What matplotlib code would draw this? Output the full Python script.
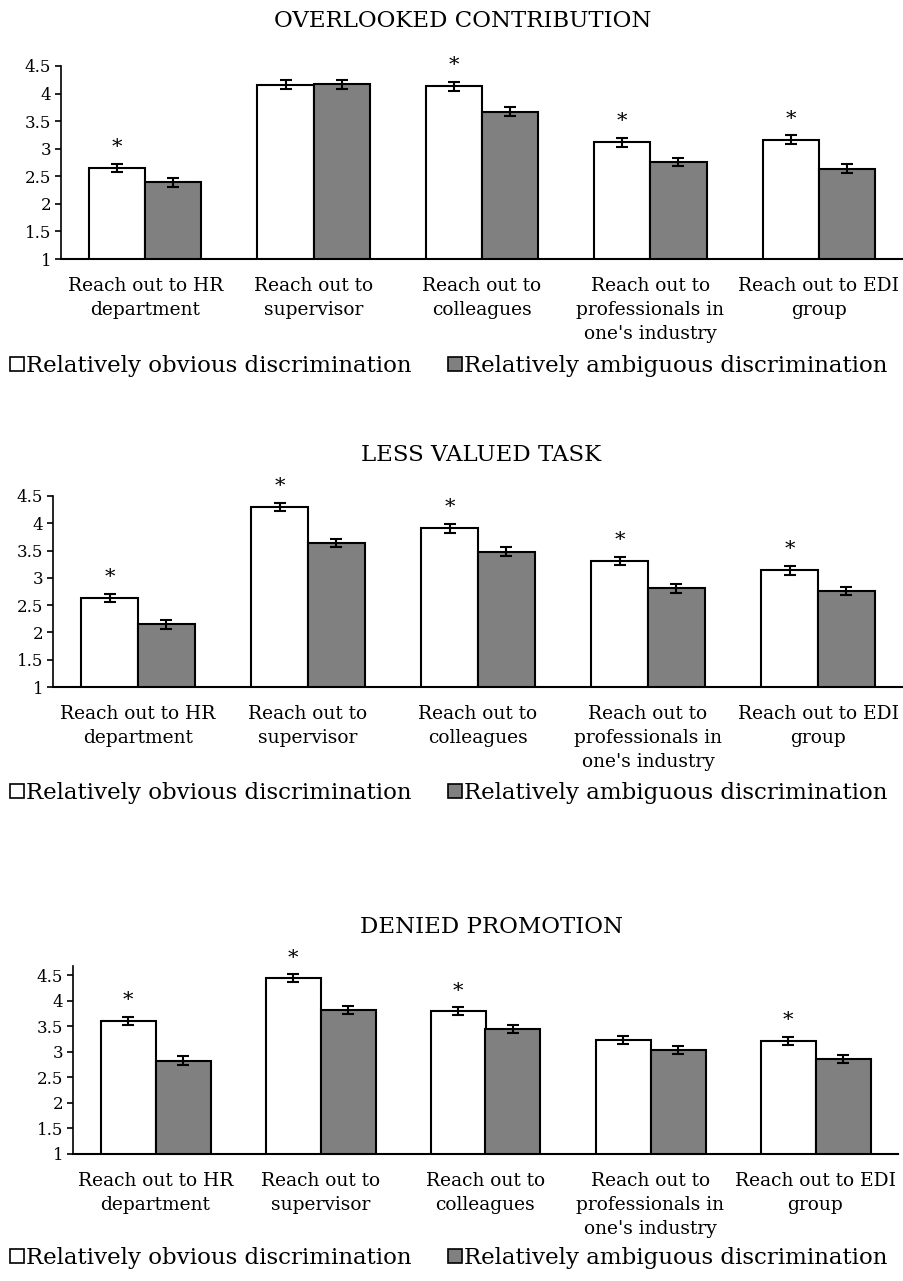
import numpy as np
import matplotlib.pyplot as plt
from matplotlib.patches import Patch

plt.rcParams['font.family'] = ['DejaVu Serif']

categories = ["Reach out to HR\ndepartment", "Reach out to\nsupervisor",
              "Reach out to\ncolleagues", "Reach out to\nprofessionals in\none's industry",
              "Reach out to EDI\ngroup"]
series_names = ["Relatively obvious discrimination", "Relatively ambiguous discrimination"]

titles = ["OVERLOOKED CONTRIBUTION", "LESS VALUED TASK", "DENIED PROMOTION"]

# means per panel: obvious / ambiguous
overlooked_obvious = [2.65, 4.16, 4.13, 3.12, 3.16]
overlooked_ambiguous = [2.39, 4.17, 3.67, 2.76, 2.64]
less_valued_obvious = [2.63, 4.30, 3.91, 3.31, 3.14]
less_valued_ambiguous = [2.15, 3.64, 3.48, 2.81, 2.76]
denied_obvious = [3.61, 4.44, 3.80, 3.23, 3.22]
denied_ambiguous = [2.83, 3.82, 3.45, 3.04, 2.86]

# standard errors
err_obvious = [0.08, 0.08, 0.08, 0.08, 0.08]
err_ambiguous = [0.08, 0.08, 0.08, 0.08, 0.08]

# significant difference markers (per category)
overlooked_sig = [True, False, True, True, True]
less_valued_sig = [True, True, True, True, True]
denied_sig = [True, True, True, False, True]

W, H = 904, 1281
fig = plt.figure(figsize=(W / 100, H / 100), dpi=100)

# axes boxes in pixels: left, right, top (ylim max), bottom (y=1)
boxes = [(61, 903, 66, 259), (53, 903, 496, 687), (73, 898, 966, 1154)]
ymaxes = [4.5, 4.5, 4.68]
title_pos = [(463, 21), (481, 455), (491, 927)]
legend_y = [366, 793, 1258]

panels = [
    (overlooked_obvious, overlooked_ambiguous, overlooked_sig),
    (less_valued_obvious, less_valued_ambiguous, less_valued_sig),
    (denied_obvious, denied_ambiguous, denied_sig),
]

x = np.arange(len(categories))
w = 1 / 3

for k, (obv, amb, sig) in enumerate(panels):
    l, r, t, b = boxes[k]
    ax = fig.add_axes([l / W, 1 - b / H, (r - l) / W, (b - t) / H])
    ax.bar(x - w / 2, obv, w, color='white', edgecolor='black', linewidth=1.5,
           yerr=err_obvious, capsize=4, error_kw=dict(elinewidth=1.5, capthick=1.5, ecolor='black'))
    ax.bar(x + w / 2, amb, w, color='#808080', edgecolor='black', linewidth=1.5,
           yerr=err_ambiguous, capsize=4, error_kw=dict(elinewidth=1.5, capthick=1.5, ecolor='black'))
    for i in range(len(categories)):
        if sig[i]:
            ax.text(x[i] - w / 2, obv[i] + err_obvious[i] + 0.12, '*', ha='center', va='bottom',
                    fontsize=15)
    ax.set_xlim(-0.5, len(categories) - 0.5)
    ax.set_ylim(1, ymaxes[k])
    ax.set_yticks([1, 1.5, 2, 2.5, 3, 3.5, 4, 4.5])
    ax.set_yticklabels(['1', '1.5', '2', '2.5', '3', '3.5', '4', '4.5'])
    ax.set_xticks(x)
    ax.set_xticklabels(categories, fontsize=13.4, linespacing=1.44)
    ax.tick_params(axis='x', length=0, pad=13)
    ax.tick_params(axis='y', labelsize=12, length=4, width=1.2, pad=3)
    for s in ['top', 'right']:
        ax.spines[s].set_visible(False)
    ax.spines['left'].set_linewidth(1.2)
    ax.spines['bottom'].set_linewidth(1.5)

    tx, ty = title_pos[k]
    fig.text(tx / W, 1 - ty / H, titles[k], ha='center', va='center', fontsize=16.5)

    handles = [Patch(facecolor='white', edgecolor='black', linewidth=1.2),
               Patch(facecolor='#808080', edgecolor='black', linewidth=1.2)]
    fig.legend(handles, series_names, loc='center left', bbox_to_anchor=(10 / W, 1 - legend_y[k] / H),
               ncol=2, frameon=False, fontsize=16.5, handlelength=0.6, handleheight=0.6,
               handletextpad=0.1, columnspacing=1.6, borderpad=0, borderaxespad=0)

fig.savefig('out.png', dpi=100)
